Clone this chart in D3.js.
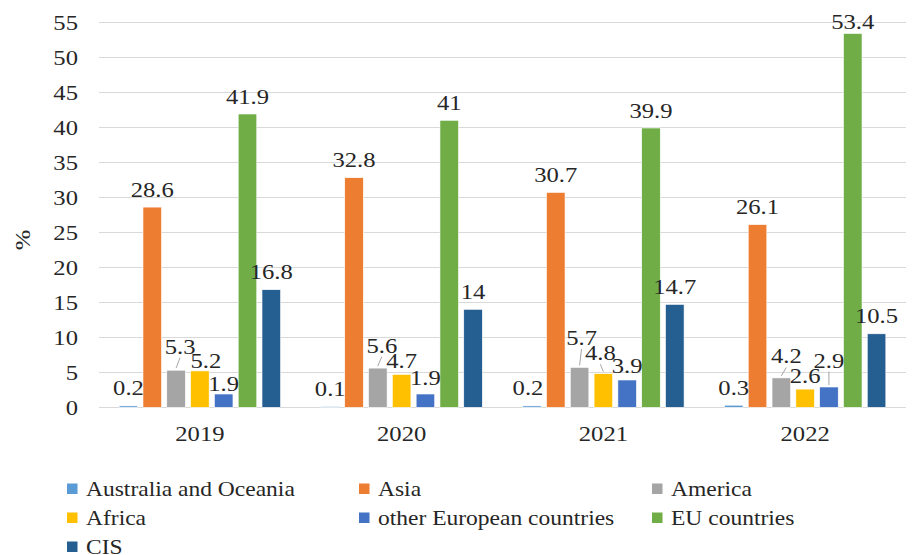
<!DOCTYPE html>
<html lang="en">
<head>
<meta charset="utf-8">
<title>Trade structure by region</title>
<script src="https://cdn.jsdelivr.net/npm/d3@7/dist/d3.min.js"></script>
<style>
  body { margin: 0; background: #fff; }
  svg text { font-family: "Liberation Serif", "Times New Roman", serif; fill: #262626; }
  .grid line { stroke: #d9d9d9; stroke-width: 1; shape-rendering: crispEdges; }
  .grid path { display: none; }
</style>
</head>
<body>
<script>
// data
var years = ["2019", "2020", "2021", "2022"];
var seriesNames = ["Australia and Oceania", "Asia", "America", "Africa",
                   "other European countries", "EU countries", "CIS"];
var australia = [0.2, 0.1, 0.2, 0.3];
var asia      = [28.6, 32.8, 30.7, 26.1];
var america   = [5.3, 5.6, 5.7, 4.2];
var africa    = [5.2, 4.7, 4.8, 2.6];
var otherEu   = [1.9, 1.9, 3.9, 2.9];
var eu        = [41.9, 41, 39.9, 53.4];
var cis       = [16.8, 14, 14.7, 10.5];
var yTicks = [0, 5, 10, 15, 20, 25, 30, 35, 40, 45, 50, 55];

var colors = ["#5b9bd5", "#ed7d31", "#a5a5a5", "#ffc000", "#4472c4", "#70ad47", "#255e91"];
var values = [australia, asia, america, africa, otherEu, eu, cis];

// label nudges where Excel moved overlapping labels: [year][series] = [dx, dy, leader]
var nudge = {
  "2019": { 2: [4, -6, true], 3: [6, 8], 4: [0, 7] },
  "2020": { 2: [4, -5, true], 3: [0, 4.5], 4: [0, 1] },
  "2021": { 0: [-4, 0], 2: [2, -12, true], 3: [-3, -3, true], 4: [0, 3] },
  "2022": { 2: [5, -4, true], 3: [0, 4], 4: [0, -9, true], 5: [0, 6] }
};

var W = 916, H = 555;
var pLeft = 99, pRight = 906, pTop = 22.3, pBottom = 407.3;
var sx = 1.12; // glyphs in the picture are a bit wider than tall

var svg = d3.select("body").append("svg")
  .attr("width", W).attr("height", H);

var x0 = d3.scaleBand().domain(years).range([pLeft, pRight])
  .paddingInner(0.2).paddingOuter(0.1);
var x1 = d3.scaleBand().domain(d3.range(seriesNames.length))
  .range([0, x0.bandwidth()]).paddingInner(0.22);
var y = d3.scaleLinear().domain([0, 55]).range([pBottom, pTop]);

function txt(g, x, yy, s, size, anchor) {
  return g.append("text")
    .attr("transform", "translate(" + x + "," + yy + ") scale(" + sx + ",1)")
    .attr("text-anchor", anchor || "middle")
    .style("font-size", size + "px")
    .text(s);
}

// gridlines
svg.append("g")
  .attr("class", "grid")
  .attr("transform", "translate(" + pLeft + ",0)")
  .call(d3.axisLeft(y).tickValues(yTicks).tickSize(-(pRight - pLeft)).tickFormat(""));

// y tick labels
var yl = svg.append("g");
yTicks.forEach(function(t) {
  txt(yl, 78, y(t) + 7.5, t, 22, "end");
});

// y title
svg.append("text")
  .attr("transform", "translate(30,240) rotate(-90) scale(" + sx + ",1)")
  .attr("text-anchor", "middle")
  .style("font-size", "22px")
  .text("%");

// bars
var groups = svg.selectAll(".year")
  .data(years)
  .enter().append("g")
  .attr("class", "year")
  .attr("transform", function(d) { return "translate(" + x0(d) + ",0)"; });

groups.selectAll("rect")
  .data(function(d, i) { return values.map(function(v, s) { return { s: s, v: v[i], year: d }; }); })
  .enter().append("rect")
  .attr("x", function(d) { return x1(d.s); })
  .attr("y", function(d) { return y(d.v); })
  .attr("width", x1.bandwidth())
  .attr("height", function(d) { return y(0) - y(d.v); })
  .attr("fill", function(d) { return colors[d.s]; })
  .attr("stroke", "#fff")
  .attr("stroke-width", 0.6);

// value labels
groups.each(function(yr, i) {
  var g = d3.select(this);
  values.forEach(function(v, s) {
    var n = (nudge[yr] && nudge[yr][s]) || [0, 0];
    var cx = x1(s) + x1.bandwidth() / 2;
    var base = y(v[i]) - 10.5 + n[1];
    if (n[2]) {
      g.append("line")
        .attr("x1", cx).attr("y1", y(v[i]) - 2)
        .attr("x2", cx + n[0]).attr("y2", base + 4)
        .attr("stroke", "#a6a6a6").attr("stroke-width", 1);
    }
    txt(g, cx + n[0], base, v[i], 22);
  });
});

// x labels
var xl = svg.append("g");
years.forEach(function(d) {
  txt(xl, x0(d) + x0.bandwidth() / 2, 441, d, 22);
});

// legend
var legCols = [67, 359, 652];
var legend = svg.append("g");
seriesNames.forEach(function(name, i) {
  var lx = legCols[i % 3], ly = 489 + Math.floor(i / 3) * 29;
  legend.append("rect")
    .attr("x", lx).attr("y", ly - 5.5)
    .attr("width", 10.5).attr("height", 10.5)
    .attr("fill", colors[i]);
  txt(legend, lx + 19, ly + 7, name, 21, "start");
});
</script>
</body>
</html>
